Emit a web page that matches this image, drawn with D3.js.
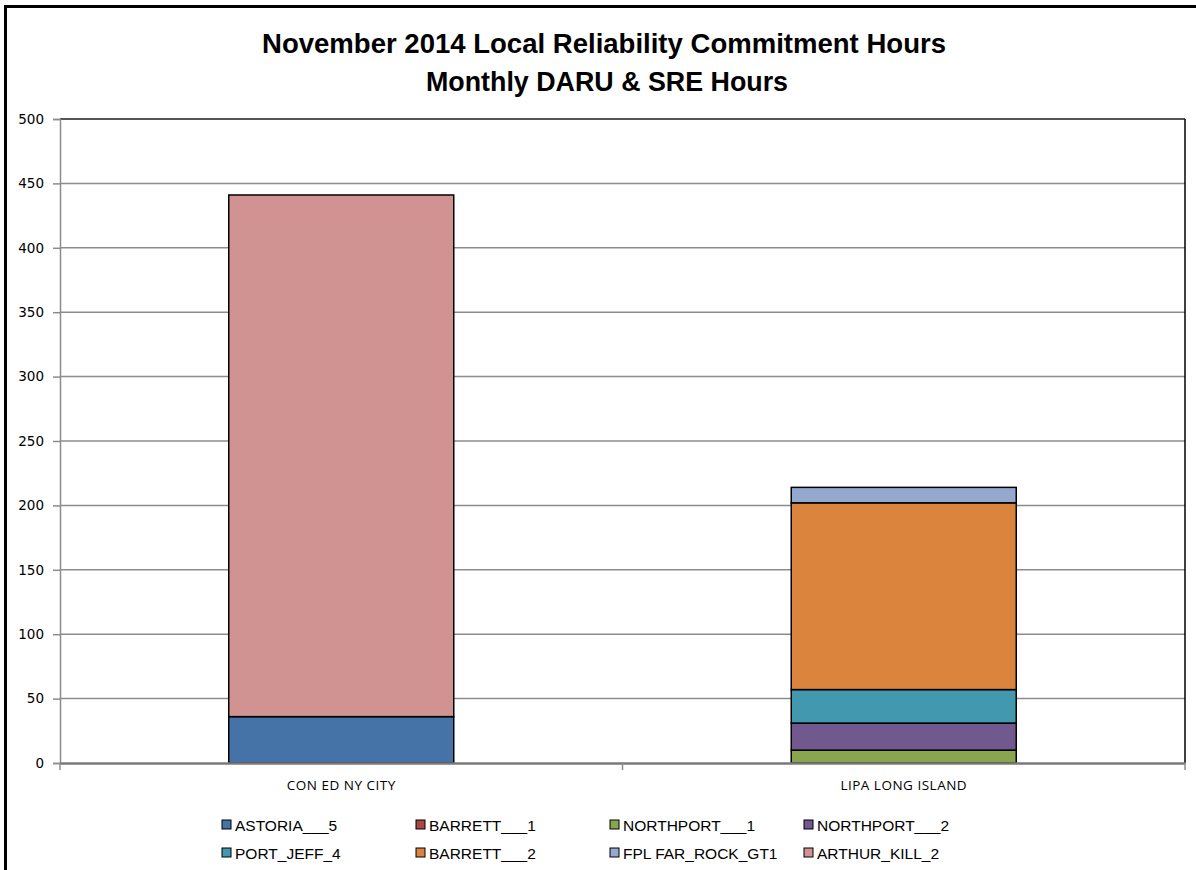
<!DOCTYPE html>
<html><head><meta charset="utf-8">
<script src="https://cdn.jsdelivr.net/npm/d3@7"></script>
<style>body{margin:0;background:#fff}svg{display:block}</style>
</head><body>
<script>
const categories = ["CON ED NY CITY", "LIPA LONG ISLAND"];
const seriesNames = ["ASTORIA___5","BARRETT___1","NORTHPORT___1","NORTHPORT___2","PORT_JEFF_4","BARRETT___2","FPL FAR_ROCK_GT1","ARTHUR_KILL_2"];
const seriesColors = ["#4572A7","#AA4643","#89A54E","#71588F","#4198AF","#DB843D","#93A9CF","#D19392"];
const astoria5 = [36, 0];
const barrett1 = [0, 0];
const northport1 = [0, 10];
const northport2 = [0, 21];
const portJeff4 = [0, 26];
const barrett2 = [0, 145];
const fplFarRock = [0, 12];
const arthurKill2 = [405, 0];
const yTicks = [0,50,100,150,200,250,300,350,400,450,500];
const titleLines = ["November 2014 Local Reliability Commitment Hours", "Monthly DARU & SRE Hours"];

(function(){
const seriesValues = [astoria5, barrett1, northport1, northport2, portJeff4, barrett2, fplFarRock, arthurKill2];
const W = 1196, H = 870;
const svg = d3.select("body").append("svg").attr("width", W).attr("height", H);
svg.append("rect").attr("x",5.5).attr("y",6.5).attr("width",1200).attr("height",900)
  .attr("fill","#fff").attr("stroke","#000").attr("stroke-width",3);

const pL = 60, pR = 1185, pT = 119, pB = 763;
const x = d3.scaleBand().domain(categories).range([pL, pR]).padding(0);
const y = d3.scaleLinear().domain([0, 500]).range([pB, pT]);
const barW = x.bandwidth() * 0.4;

svg.append("g").selectAll("line").data(yTicks.filter(t => t > 0)).join("line")
  .attr("x1", pL).attr("x2", pR).attr("y1", d => y(d)).attr("y2", d => y(d))
  .attr("stroke", d => d === 500 ? "#555" : "#8c8c8c").attr("stroke-width", d => d === 500 ? 2 : 1.5);
svg.append("line").attr("x1", pR).attr("x2", pR).attr("y1", pT).attr("y2", pB)
  .attr("stroke", "#000").attr("stroke-width", 1.5);

const rows = categories.map((c, i) => { const o = {cat: c}; seriesNames.forEach((s, j) => o[s] = seriesValues[j][i]); return o; });
const stack = d3.stack().keys(seriesNames)(rows);
const gBars = svg.append("g");
stack.forEach((layer, j) => {
  gBars.selectAll(null).data(layer.filter(d => d[1] - d[0] > 0)).join("rect")
    .attr("x", d => x(d.data.cat) + (x.bandwidth() - barW) / 2)
    .attr("width", barW)
    .attr("y", d => y(d[1]))
    .attr("height", d => y(d[0]) - y(d[1]))
    .attr("fill", seriesColors[j]).attr("stroke", "#000").attr("stroke-width", 1.5);
});

const yAxis = svg.append("g").attr("transform", `translate(${pL},0)`)
  .call(d3.axisLeft(y).tickValues(yTicks).tickSize(7).tickPadding(9));
yAxis.select(".domain").attr("stroke", "#8c8c8c").attr("stroke-width", 1.5);
yAxis.selectAll(".tick line").attr("stroke", "#8c8c8c").attr("stroke-width", 1.5);
yAxis.selectAll("text").attr("font-family", "DejaVu Sans, Verdana, sans-serif").attr("font-size", 13.5).attr("fill", "#000");

const xAxis = svg.append("g").attr("transform", `translate(0,${pB})`)
  .call(d3.axisBottom(x).tickSize(0).tickPadding(17));
xAxis.select(".domain").attr("stroke", "#7a7a7a").attr("stroke-width", 2.5);
xAxis.selectAll("text").attr("font-family", "Open Sans, Liberation Sans, sans-serif").attr("font-size", 13.5)
  .attr("letter-spacing", "0.5px").attr("fill", "#000");
svg.append("g").selectAll("line").data([pL, x(categories[1]), pR]).join("line")
  .attr("x1", d => d).attr("x2", d => d).attr("y1", pB).attr("y2", pB + 7)
  .attr("stroke", "#8c8c8c").attr("stroke-width", 1.5);

const titleW = [684, 362];
titleLines.forEach((t, i) => {
  svg.append("text").attr("x", (262 + 946) / 2 + (i ? 3 : 0)).attr("y", 53 + i * 38)
    .attr("text-anchor", "middle").attr("font-family", "Liberation Sans, Arial, sans-serif")
    .attr("font-weight", "bold").attr("font-size", 27)
    .attr("textLength", titleW[i]).attr("lengthAdjust", "spacingAndGlyphs").text(t);
});

const legX = [222, 416, 610, 804], legY = [825, 853];
const leg = svg.append("g");
seriesNames.forEach((s, i) => {
  const cx = legX[i % 4], cy = legY[Math.floor(i / 4)];
  leg.append("rect").attr("x", cx).attr("y", cy - 5).attr("width", 9).attr("height", 9)
    .attr("fill", seriesColors[i]).attr("stroke", "#000").attr("stroke-width", 1);
  leg.append("text").attr("x", cx + 13).attr("y", cy + 5.5)
    .attr("font-family", "Liberation Sans, Arial, sans-serif").attr("font-size", 15.5).attr("fill", "#000").text(s);
});
})();
</script>
</body></html>
